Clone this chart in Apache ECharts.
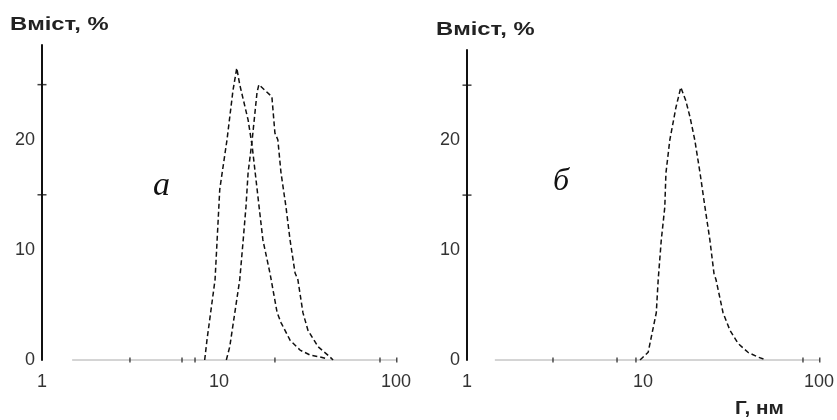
<!DOCTYPE html>
<html>
<head>
<meta charset="utf-8">
<script src="https://cdn.jsdelivr.net/npm/echarts@6/dist/echarts.min.js"></script>
<style>
  html, body { margin: 0; padding: 0; background: #fff; }
  #chart { width: 837px; height: 420px; }
</style>
</head>
<body>
<div id="chart"></div>
<script>
// panel "а": two distributions, size (nm, log) vs content (%)
var sizeA1 = [8.3, 8.55, 9.5, 10.1, 11.1, 12.0, 12.6, 13.1, 14.6, 15.4, 17.7, 19.4, 21.3, 22.4, 25.2, 28.7, 32.7, 37.2, 41.3];
var contentA1 = [0, 1.8, 7.3, 15.5, 20, 24.5, 26.5, 25, 21.8, 19.4, 10.9, 7.9, 4.3, 3.4, 1.8, 0.9, 0.45, 0.27, 0.1];

var sizeA2 = [11.0, 11.5, 13.1, 13.7, 14.2, 14.6, 15.4, 16.4, 16.8, 19.9, 20.7, 21.5, 22.4, 23.9, 25.2, 26.9, 27.9, 29.8, 31.8, 36.3, 42.4, 44.1];
var contentA2 = [0, 1.2, 7.3, 10.9, 13.9, 17, 20, 24.3, 25, 23.9, 20.6, 20, 17, 13.9, 10.9, 7.9, 7.3, 4.3, 2.7, 1.2, 0.27, 0];

// panel "б": one distribution
var sizeB = [9.62, 10.7, 11.9, 12.2, 12.7, 13.3, 13.5, 14.2, 15.4, 16.4, 17.5, 18.5, 19.7, 21.1, 22.5, 24.0, 25.3, 26.0, 28.5, 31.2, 34.7, 39.5, 45.0, 50.0];
var contentB = [0, 0.7, 4.3, 7.3, 10.9, 13.9, 17, 20, 23, 24.8, 23.6, 22.1, 20, 17, 13.9, 10.9, 7.9, 7.3, 4.3, 2.7, 1.5, 0.7, 0.27, 0];

// zero line extent and the little marks sitting on it
var baseA = [1.48, 140];
var baseB = [1.44, 130];
var baseTicksA = [3.14, 6.18, 7.32, 20.7, 81.2, 101];
var baseTicksB = [3.08, 7.12, 9.12, 81.1, 101];

var yLabels = [0, 10, 20];
var yTicks = [15, 25];
var xLabels = [1, 10, 100];

function pairs(xs, ys) {
  return xs.map(function (x, i) { return [x, ys[i]]; });
}

var curveStyle = { color: '#111', width: 1.5, type: [5, 3] };

function curve(idx, xs, ys) {
  return {
    type: 'line', xAxisIndex: idx, yAxisIndex: idx,
    data: pairs(xs, ys), symbol: 'none', smooth: false,
    lineStyle: curveStyle, z: 3
  };
}

function baseline(idx, ext) {
  return {
    type: 'line', xAxisIndex: idx, yAxisIndex: idx, clip: false,
    data: [[ext[0], 0], [ext[1], 0]], symbol: 'none',
    lineStyle: { color: '#aaa', width: 1 }, z: 2
  };
}

function baseMarks(idx, xs) {
  return {
    type: 'scatter', xAxisIndex: idx, yAxisIndex: idx, clip: false,
    data: xs.map(function (x) { return [x, 0]; }),
    symbol: 'rect', symbolSize: [1.5, 5],
    itemStyle: { color: '#222' }, silent: true, z: 4
  };
}

function axisMarks(idx) {
  return {
    type: 'scatter', xAxisIndex: idx, yAxisIndex: idx, clip: false,
    data: yTicks.map(function (y) { return [1, y]; }),
    symbol: 'rect', symbolSize: [9, 1.5],
    itemStyle: { color: '#111' }, silent: true, z: 4
  };
}

var labelFont = { color: '#333', fontSize: 18, fontFamily: 'Liberation Sans, Arial, sans-serif' };

function xAx(idx) {
  return {
    type: 'log', gridIndex: idx, min: 1, max: 100, logBase: 10,
    axisLine: { show: false }, axisTick: { show: false }, splitLine: { show: false },
    axisLabel: Object.assign({ margin: 13, customValues: xLabels }, labelFont)
  };
}

function yAx(idx, max) {
  return {
    type: 'value', gridIndex: idx, min: 0, max: max,
    axisLine: { show: true, lineStyle: { color: '#111', width: 2 } },
    axisTick: { show: false }, splitLine: { show: false },
    axisLabel: Object.assign({ margin: 7, customValues: yLabels }, labelFont)
  };
}

var headFont = 'bold 19px "Liberation Sans", Arial, sans-serif';

var chart = echarts.init(document.getElementById('chart'));
chart.setOption({
  animation: false,
  backgroundColor: '#fff',
  grid: [
    { left: 42, top: 45, width: 354, height: 315 },
    { left: 467, top: 50, width: 352, height: 310 }
  ],
  xAxis: [xAx(0), xAx(1)],
  yAxis: [yAx(0, 28.6), yAx(1, 28.2)],
  graphic: [
    { type: 'text', left: 10, top: 15, scaleX: 1.25, style: { text: 'Вміст, %', font: headFont, fill: '#222' } },
    { type: 'text', left: 436, top: 20, scaleX: 1.25, style: { text: 'Вміст, %', font: headFont, fill: '#222' } },
    { type: 'text', left: 735, top: 400, scaleX: 1.15, style: { text: 'Г, нм', font: 'bold 18px "Liberation Sans", Arial, sans-serif', fill: '#222' } },
    { type: 'text', left: 153, top: 169, style: { text: 'а', font: 'italic 34px "Liberation Serif", "Times New Roman", serif', fill: '#111' } },
    { type: 'text', left: 553, top: 166, style: { text: 'б', font: 'italic 32px "Liberation Serif", "Times New Roman", serif', fill: '#111' } }
  ],
  series: [
    baseline(0, baseA), baseline(1, baseB),
    baseMarks(0, baseTicksA), baseMarks(1, baseTicksB),
    axisMarks(0), axisMarks(1),
    curve(0, sizeA1, contentA1),
    curve(0, sizeA2, contentA2),
    curve(1, sizeB, contentB)
  ]
});
</script>
</body>
</html>
